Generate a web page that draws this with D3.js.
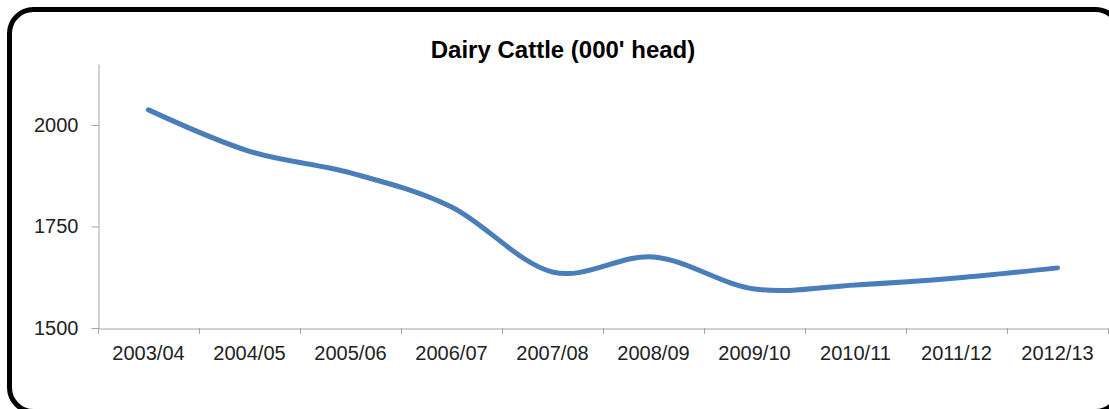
<!DOCTYPE html>
<html>
<head>
<meta charset="utf-8">
<script src="https://cdn.jsdelivr.net/npm/d3@7"></script>
<style>
  body { margin: 0; background: #fff; }
  text { font-family: "Liberation Sans", Arial, sans-serif; }
</style>
</head>
<body>
<div id="chart"></div>
<script>
const years = ["2003/04", "2004/05", "2005/06", "2006/07", "2007/08",
  "2008/09", "2009/10", "2010/11", "2011/12", "2012/13"]
const cattle = [2037, 1935, 1882, 1798, 1638, 1675, 1596, 1606, 1623, 1648]
const yTicks = [1500, 1750, 2000]

let width = 1109
let height = 409

let svg = d3.select("#chart").append("svg")
  .attr("width", width)
  .attr("height", height)

// rounded frame, runs off the right and bottom edge
svg.append("rect")
  .attr("x", 9.5)
  .attr("y", 9.5)
  .attr("width", 1110)
  .attr("height", 402)
  .attr("rx", 24)
  .attr("fill", "#fff")
  .attr("stroke", "#000")
  .attr("stroke-width", 5)

svg.append("text")
  .attr("x", 563)
  .attr("y", 58)
  .attr("text-anchor", "middle")
  .style("font-size", "24px")
  .style("font-weight", "bold")
  .text("Dairy Cattle (000' head)")

let x = d3.scaleBand()
  .domain(years)
  .range([98, 1108])

let y = d3.scaleLinear()
  .domain([1500, 2150])
  .range([328, 64])

// y axis
let yAxis = svg.append("g")
  .attr("transform", "translate(98.5,0)")
  .call(d3.axisLeft(y).tickValues(yTicks).tickFormat(d3.format("d"))
    .tickSize(7).tickPadding(13).tickSizeOuter(0))
yAxis.select(".domain").attr("stroke", "#a6a6a6")
yAxis.selectAll(".tick line").attr("stroke", "#a6a6a6")
yAxis.selectAll(".tick text")
  .attr("fill", "#222")
  .style("font-size", "20px")
  .attr("font-family", null)

// x axis, ticks sit between categories
let xAxis = svg.append("g")
  .attr("transform", "translate(0,328.5)")
  .call(d3.axisBottom(x).tickSize(0).tickPadding(17).tickSizeOuter(0))
xAxis.select(".domain").attr("stroke", "#a6a6a6")
xAxis.selectAll(".tick text")
  .attr("fill", "#222")
  .style("font-size", "20px")
  .attr("font-family", null)

svg.append("g")
  .selectAll("line")
  .data(years.concat(["end"]))
  .enter().append("line")
  .attr("x1", (d, i) => Math.round(x.range()[0] + i * x.step()) + 0.5)
  .attr("x2", (d, i) => Math.round(x.range()[0] + i * x.step()) + 0.5)
  .attr("y1", 328)
  .attr("y2", 334)
  .attr("stroke", "#a6a6a6")

let line = d3.line()
  .x((d, i) => x(years[i]) + x.bandwidth() / 2)
  .y(d => y(d))
  .curve(d3.curveCardinal.tension(0))

svg.append("path")
  .datum(cattle)
  .attr("d", line)
  .attr("fill", "none")
  .attr("stroke", "#4a7ebb")
  .attr("stroke-width", 5)
  .attr("stroke-linecap", "round")
</script>
</body>
</html>
